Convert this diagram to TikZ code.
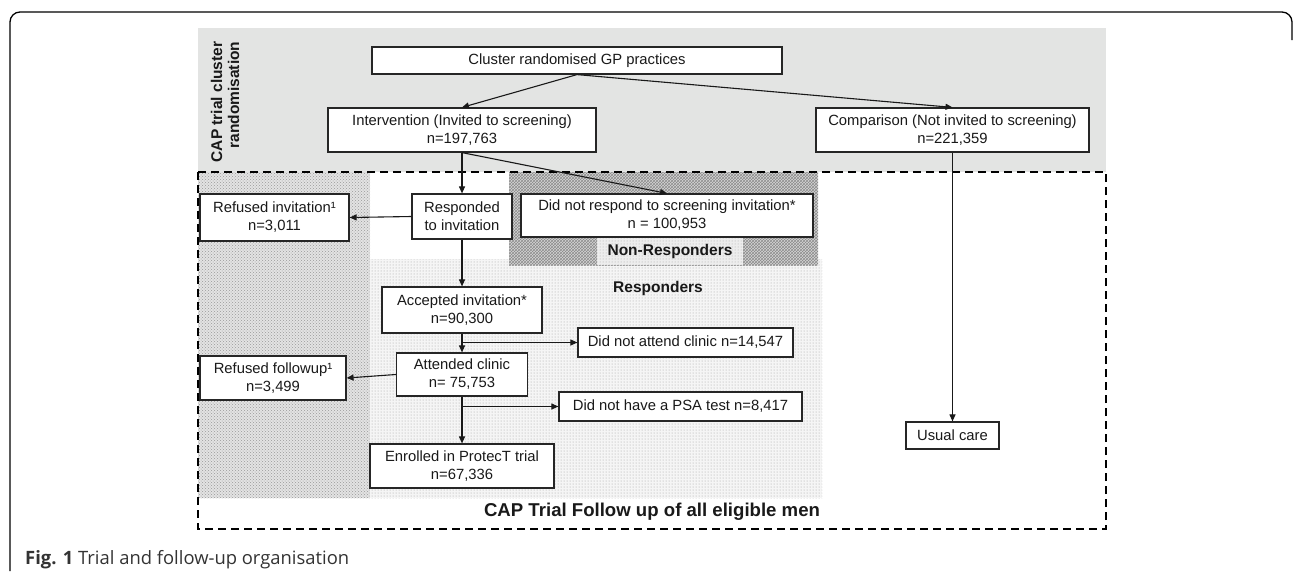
\documentclass[tikz,border=0pt]{standalone}
\usepackage{fontspec}
\setmainfont{Liberation Sans}
\newfontfamily\capfont{Open Sans}
\usepackage{tikz}
\usetikzlibrary{arrows.meta,patterns}

\definecolor{bandgray}{RGB}{227,228,227}
\newcommand{\flowfont}{\fontsize{14.8}{18}\selectfont}
\newcommand{\bandfont}{\fontsize{15.5}{17}\selectfont\bfseries}

\begin{document}
\begin{tikzpicture}[
    x=1pt, y=-1pt,
    box/.style={draw=black!85, line width=1.2pt, fill=white, align=center, inner sep=0pt, text=black!90, font=\flowfont},
    wire/.style={line width=1.1pt, draw=black!90, -{Triangle[length=7pt,width=6pt]}},
    band/.style={inner sep=0pt, text=black!90, font=\bandfont}
  ]
  \useasboundingbox (0,0) rectangle (1293,571);

  % page frame
  \draw[line width=1.3pt, rounded corners=10pt] (10,571) -- (10,12) -- (1292,12) -- (1292,40);

  % shaded areas
  \fill[bandgray] (198,28) rectangle (1106,172);
  \fill[gray!22] (198,172) rectangle (370,498);
  \fill[pattern=crosshatch dots, pattern color=gray!80] (198,172) rectangle (370,498);
  \fill[gray!8] (370,259) rectangle (822,498);
  \fill[pattern=dots, pattern color=gray!75] (370,259) rectangle (822,498);
  \fill[gray!32] (509,172) rectangle (818,265);
  \fill[pattern=crosshatch, pattern color=gray!90] (509,172) rectangle (818,265);
  \fill[gray!14] (597,237) rectangle (743,265);
  \fill[pattern=dots, pattern color=gray!70] (597,237) rectangle (743,265);
  \draw[line width=1.5pt, dash pattern=on 8pt off 5pt] (198,172) rectangle (1106,529);

  \node[band, rotate=90, align=right] (randlab) at (225,102) {CAP trial cluster\\randomisation};
  \node[band] (nrlab) at (670,251) {Non-Responders};
  \node[band] (rlab) at (658,288) {Responders};
  \node[band, font=\fontsize{18.6}{20}\selectfont\bfseries] (fulab) at (652,512) {CAP Trial Follow up of all eligible men};

  % boxes
  \node[box, minimum width=410, minimum height=27] (clus) at (577,60.5) {Cluster randomised GP practices};
  \node[box, minimum width=268, minimum height=44] (interv) at (462,130) {Intervention (Invited to screening)\\n=197,763};
  \node[box, minimum width=273, minimum height=44] (compar) at (952.5,130) {Comparison (Not invited to screening)\\n=221,359};
  \node[box, minimum width=149, minimum height=47] (refinv) at (274.5,217.5) {Refused invitation¹\\n=3,011};
  \node[box, minimum width=100, minimum height=45] (resp) at (462,216.5) {Responded\\to invitation};
  \node[box, minimum width=292, minimum height=43] (nonresp) at (667,215.5) {Did not respond to screening invitation*\\n = 100,953};
  \node[box, minimum width=160, minimum height=46] (accept) at (462,310) {Accepted invitation*\\n=90,300};
  \node[box, minimum width=215, minimum height=29] (noattend) at (685.5,342.5) {Did not attend clinic n=14,547};
  \node[box, minimum width=131, minimum height=43] (attend) at (462,374.5) {Attended clinic\\n= 75,753};
  \node[box, minimum width=146, minimum height=44] (reffup) at (273,378) {Refused followup¹\\n=3,499};
  \node[box, minimum width=243, minimum height=29] (nopsa) at (680.5,406.5) {Did not have a PSA test n=8,417};
  \node[box, minimum width=184, minimum height=44] (enrol) at (462,466) {Enrolled in ProtecT trial\\n=67,336};
  \node[box, minimum width=93, minimum height=27] (usual) at (952.5,435.5) {Usual care};

  % connectors
  \draw[wire] (clus.south) -- (interv.north);
  \draw[wire] (clus.south) -- (compar.north);
  \draw[wire] (interv.south) -- (resp.north);
  \draw[wire] (interv.south) -- (nonresp.north);
  \draw[wire] (resp.west) -- (refinv.east);
  \draw[wire] (resp.south) -- (accept.north);
  \draw[wire] (accept.south) -- (attend.north);
  \draw[wire] (accept.south |- noattend.west) -- (noattend.west);
  \draw[wire] (attend.west) -- (reffup.east);
  \draw[wire] (attend.south) -- (enrol.north);
  \draw[wire] (attend.south |- nopsa.west) -- (nopsa.west);
  \draw[wire] (compar.south) -- (usual.north);

  % caption
  \node[anchor=base west, inner sep=0pt, text=black!80, font=\capfont\fontsize{18.4}{21}\selectfont] (caption) at (25,564) {\textbf{Fig. 1} Trial and follow-up organisation};
\end{tikzpicture}
\end{document}
